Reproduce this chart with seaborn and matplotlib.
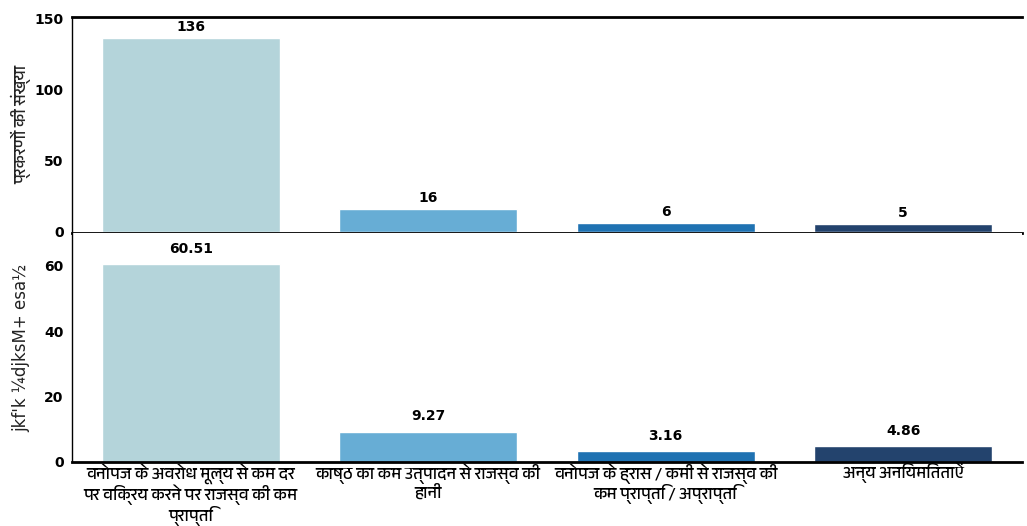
import matplotlib
matplotlib.use("Agg")
import matplotlib.pyplot as plt
from matplotlib import font_manager
import seaborn as sns
import pandas as pd

categories = [
    "वनोपज के अवरोध मूल्य से कम दर\nपर विक्रय करने पर राजस्व की कम\nप्राप्ति",
    "काष्ठ का कम उत्पादन से राजस्व की\nहानी",
    "वनोपज के ह्रास / कमी से राजस्व की\nकम प्राप्ति / अप्राप्ति",
    "अन्य अनियमितताऐं",
]
cases = [136, 16, 6, 5]
amount = [60.51, 9.27, 3.16, 4.86]
colors = ["#b4d4da", "#67add5", "#1f72b2", "#23436d"]

sns.set_style("white", {"axes.edgecolor": "black", "text.color": "black",
                        "ytick.color": "black", "xtick.color": "black"})

# find something that can draw devanagari, if there is one
deva = [f.name for f in font_manager.fontManager.ttflist
        if any(k in f.name for k in ("Devanagari", "Lohit", "Mangal", "Gargi", "Kalimati"))]
plt.rcParams["font.family"] = deva[:1] + ["DejaVu Sans"]

df = pd.DataFrame({"cat": categories, "cases": cases, "amount": amount})

fig = plt.figure(figsize=(10.27, 5.26), dpi=100)
ax1 = fig.add_axes([0.070, 0.557, 0.925, 0.411])
ax2 = fig.add_axes([0.070, 0.122, 0.925, 0.435])

for ax, col, ylim, ticks, fmt, pad in [
    (ax1, "cases", (-1, 151), [0, 50, 100, 150], "{:.0f}", 3),
    (ax2, "amount", (0, 70), [0, 20, 40, 60], "{:.2f}", 6),
]:
    sns.barplot(data=df, x="cat", y=col, hue="cat", palette=colors,
                width=0.75, legend=False, ax=ax, saturation=1)
    ax.set_xlim(-0.5, 3.5)
    ax.set_ylim(*ylim)
    ax.set_yticks(ticks)
    for c in ax.containers:
        ax.bar_label(c, labels=[fmt.format(v) for v in c.datavalues],
                     padding=pad, fontsize=10, fontweight="bold",
                     family="DejaVu Sans", color="black")
    for s in ["top", "bottom"]:
        ax.spines[s].set_linewidth(2)
    ax.spines["right"].set_visible(False)
    ax.spines["left"].set_linewidth(1)
    ax.tick_params(axis="y", length=4, width=1, labelsize=10, pad=2)
    for t in ax.get_yticklabels():
        t.set_fontweight("bold")
        t.set_family("DejaVu Sans")
    ax.set_xlabel("")

ax1.set_xticks([0, 1, 2, 3])
ax1.set_xticklabels([])
ax1.tick_params(axis="x", length=0)
ax1.set_ylabel("प्रकरणों की संख्या", fontsize=12, labelpad=2)

ax2.spines["top"].set_visible(False)
ax2.set_xticks([0, 1, 2, 3])
ax2.set_xticklabels(categories, fontsize=12, linespacing=1.05)
ax2.set_xticks([-0.5, 0.5, 1.5, 2.5, 3.5], minor=True)
ax2.tick_params(axis="x", which="major", length=0, pad=1)
ax2.tick_params(axis="x", which="minor", length=5, width=1)
ax2.set_ylabel("jkf'k ¼djksM+ esa½", fontsize=12, labelpad=10,
               family="DejaVu Sans", color="#222222")

fig.savefig("out.png", dpi=100)
